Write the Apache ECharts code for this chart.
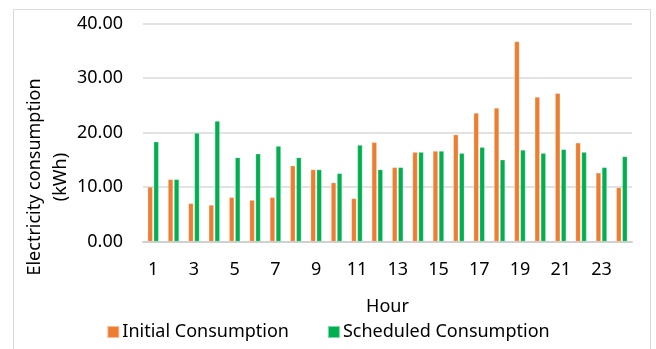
<!DOCTYPE html>
<html>
<head>
<meta charset="utf-8">
<style>
  html, body { margin: 0; padding: 0; background: #fff; }
  #chart { width: 656px; height: 349px; }
</style>
<script src="https://cdn.jsdelivr.net/npm/echarts@6/dist/echarts.min.js"></script>
</head>
<body>
<div id="chart"></div>
<script>
// Hourly electricity use before and after scheduling (kWh)
const hours = ['1','2','3','4','5','6','7','8','9','10','11','12','13','14','15','16','17','18','19','20','21','22','23','24'];
const initialConsumption = [10.0, 11.4, 7.0, 6.7, 8.1, 7.6, 8.1, 13.9, 13.2, 10.8, 7.9, 18.2, 13.6, 16.4, 16.6, 19.6, 23.6, 24.5, 36.7, 26.5, 27.2, 18.1, 12.6, 9.9];
const scheduledConsumption = [18.3, 11.4, 19.9, 22.1, 15.4, 16.1, 17.5, 15.4, 13.2, 12.5, 17.7, 13.2, 13.6, 16.4, 16.6, 16.2, 17.3, 15.0, 16.8, 16.2, 16.9, 16.4, 13.6, 15.6];
const seriesNames = ['Initial Consumption', 'Scheduled Consumption'];

const FONT = 'Noto Sans';
const chart = echarts.init(document.getElementById('chart'));

chart.setOption({
  animation: false,
  textStyle: { fontFamily: FONT },
  color: ['#ED7D31', '#00B050'],
  grid: { left: 143, right: 24, top: 23.5, bottom: 107.5 },
  graphic: [
    {
      type: 'rect',
      shape: { x: 13.5, y: 9.5, width: 637, height: 345 },
      style: { fill: 'none', stroke: '#D9D9D9', lineWidth: 1 },
      silent: true
    },
    {
      type: 'text',
      x: 48, y: 177,
      rotation: Math.PI / 2,
      style: {
        text: 'Electricity consumption\n(kWh)',
        font: '18px "Noto Sans"',
        fill: '#000',
        align: 'center',
        verticalAlign: 'middle',
        lineHeight: 26
      }
    }
  ],
  legend: {
    data: seriesNames,
    left: 'center',
    bottom: 3,
    itemWidth: 12,
    itemHeight: 12,
    itemGap: 38,
    icon: 'rect',
    textStyle: { fontFamily: FONT, fontSize: 18, color: '#000', padding: [0, 0, 0, -2] }
  },
  xAxis: {
    type: 'category',
    data: hours,
    name: 'Hour',
    nameLocation: 'middle',
    nameGap: 56,
    nameTextStyle: { fontFamily: FONT, fontSize: 18, color: '#000', verticalAlign: 'top' },
    axisTick: { show: false },
    axisLine: { lineStyle: { color: '#D0D0D0', width: 2 } },
    axisLabel: { interval: 1, margin: 19, fontFamily: FONT, fontSize: 18, color: '#000' }
  },
  yAxis: {
    type: 'value',
    min: 0,
    max: 40,
    interval: 10,
    axisLine: { show: false },
    axisTick: { show: false },
    splitLine: { lineStyle: { color: '#D9D9D9', width: 1.5 } },
    axisLabel: {
      margin: 20,
      fontFamily: FONT,
      fontSize: 18,
      color: '#000',
      formatter: v => v.toFixed(2)
    }
  },
  series: [
    {
      name: seriesNames[0],
      type: 'bar',
      data: initialConsumption,
      barWidth: 5,
      barGap: '20%',
      itemStyle: { borderColor: 'rgba(255,255,255,0.5)', borderWidth: 0.5 }
    },
    {
      name: seriesNames[1],
      type: 'bar',
      data: scheduledConsumption,
      barWidth: 5,
      barGap: '20%',
      itemStyle: { borderColor: 'rgba(255,255,255,0.5)', borderWidth: 0.5 }
    }
  ]
});
</script>
</body>
</html>
